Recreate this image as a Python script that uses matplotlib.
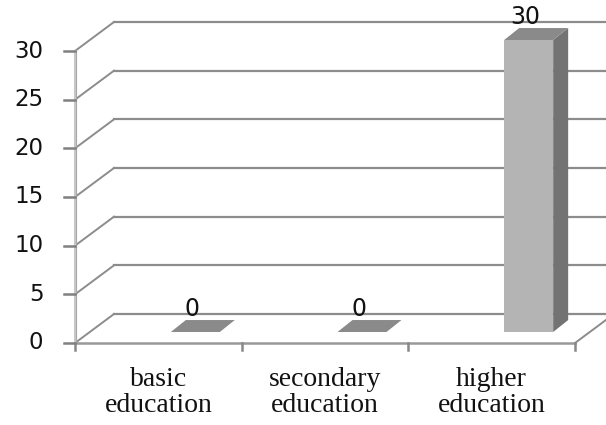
import matplotlib.pyplot as plt

categories = ["basic\neducation", "secondary\neducation", "higher\neducation"]
values = [0, 0, 30]
y_ticks = [0, 5, 10, 15, 20, 25, 30]

# oblique "3D" geometry, in data units (x: category slots, y: value units)
DEPTH_X, DEPTH_Y = 0.234, 2.98       # back wall offset
BAR_SHIFT, BAR_HALF = 0.222, 0.147   # bar front face centre shift / half width
BAR_BASE = 1.13                      # bar front sits a bit into the floor
BAR_DX, BAR_DY = 0.09, 1.23          # bar depth

GRID = "#8c8c8c"
FRONT, SIDE, TOP = "#b4b4b4", "#737373", "#8a8a8a"


def draw_bar(ax, cx, v):
    x0, x1 = cx - BAR_HALF, cx + BAR_HALF
    y0, y1 = BAR_BASE, BAR_BASE + v
    if v > 0:
        ax.fill([x0, x1, x1, x0], [y0, y0, y1, y1], color=FRONT, lw=0, zorder=5)
        ax.fill([x1, x1 + BAR_DX, x1 + BAR_DX, x1],
                [y0, y0 + BAR_DY, y1 + BAR_DY, y1], color=SIDE, lw=0, zorder=5)
    ax.fill([x0, x1, x1 + BAR_DX, x0 + BAR_DX],
            [y1, y1, y1 + BAR_DY, y1 + BAR_DY], color=TOP, lw=0, zorder=5)


fig = plt.figure(figsize=(6.06, 4.25), dpi=100)
ax = fig.add_axes([0, 0, 1, 1])
ax.set_xlim(-0.45, 3.186)
ax.set_ylim(-8.425, 35.24)
ax.axis("off")

n = len(categories)

# back wall gridlines and the side wall diagonals
for t in y_ticks:
    ax.plot([DEPTH_X, n + DEPTH_X], [t + DEPTH_Y, t + DEPTH_Y], color=GRID, lw=1.6, zorder=1)
    ax.plot([0, DEPTH_X], [t, t + DEPTH_Y], color=GRID, lw=1.4, zorder=1)
    ax.plot([-0.066, 0], [t, t], color="#808080", lw=1.8, zorder=3)
    ax.text(-0.19, t, str(t), ha="right", va="center", fontsize=16.5,
            family="DejaVu Sans", color="#111111")

# floor: front edge and right diagonal
ax.plot([0, n], [0, 0], color="#999999", lw=1.8, zorder=2)
ax.plot([n, n + DEPTH_X], [0, DEPTH_Y], color=GRID, lw=1.4, zorder=1)

# value axis
ax.plot([0, 0], [0, y_ticks[-1]], color="#c8c8c8", lw=2.2, zorder=2)
ax.plot([0.004, 0.004], [0, y_ticks[-1]], color="#a8a8a8", lw=0.8, zorder=2)

# category ticks
for i in range(n + 1):
    ax.plot([i, i], [0, -0.75], color="#888888", lw=1.8, zorder=2)

for i, (label, v) in enumerate(zip(categories, values)):
    cx = i + 0.5 + BAR_SHIFT
    draw_bar(ax, cx, v)
    ax.text(cx - 0.02, v + BAR_BASE + 2.4, str(v), ha="center", va="center",
            fontsize=17, family="DejaVu Sans", color="#111111", zorder=6)
    ax.text(i + 0.5, -5.1, label, ha="center", va="center", fontsize=20,
            family="Liberation Serif", linespacing=1.02, color="#111111")

fig.savefig("out.png", dpi=100)
